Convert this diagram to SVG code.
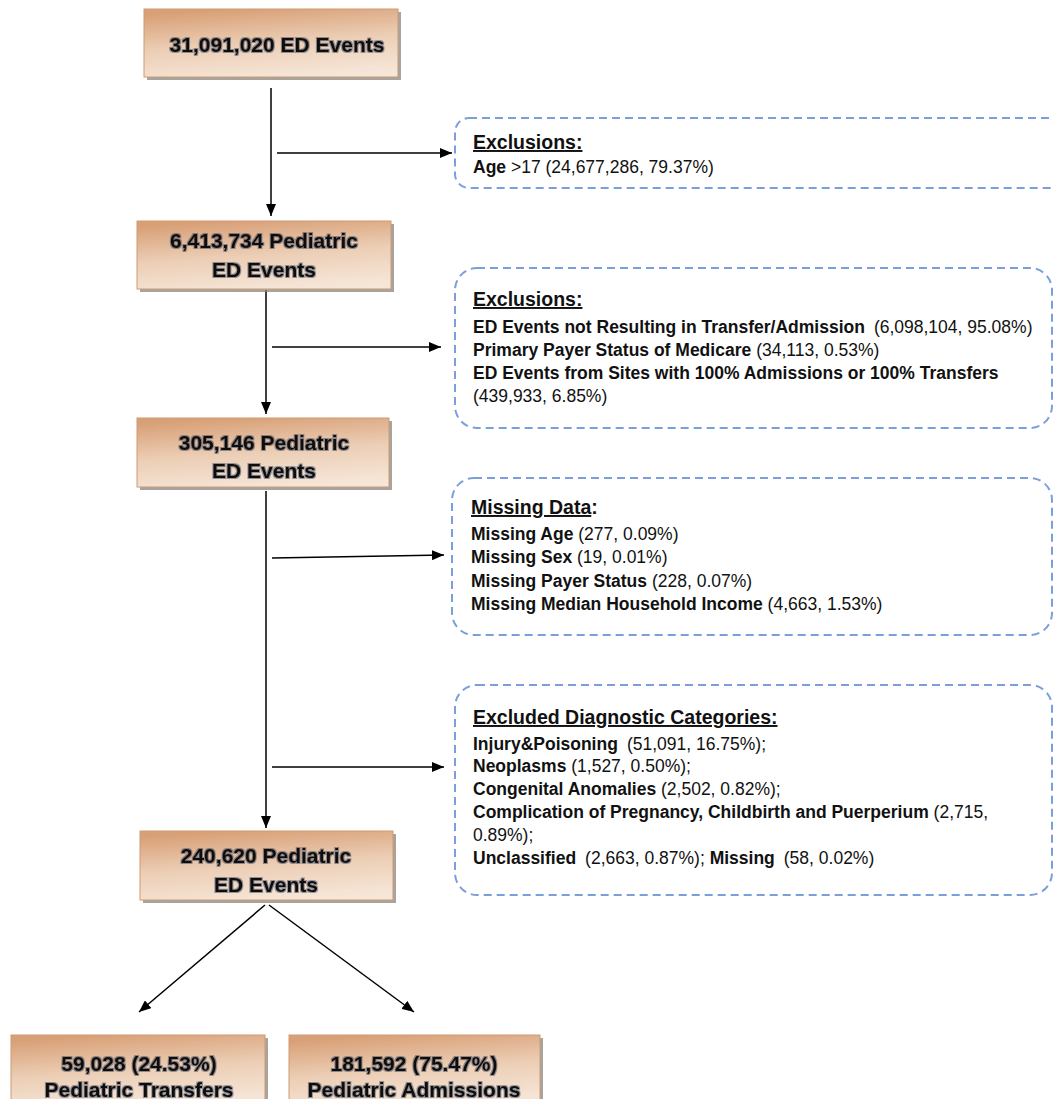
<svg xmlns="http://www.w3.org/2000/svg" width="1054" height="1099" viewBox="0 0 1054 1099">
<style>
.node{fill:url(#ng);stroke:#cf9a70;stroke-width:1}
.shadow{fill:#8a8580;opacity:0.75}
.nt{font-family:"Liberation Sans",Arial,sans-serif;font-weight:bold;font-size:21px;fill:#111;text-anchor:middle}
.dash{fill:none;stroke:#7b9fda;stroke-width:2;stroke-dasharray:8 5}
.st{font-family:"Liberation Sans",Arial,sans-serif;font-size:17.5px;fill:#111}
.sh{font-family:"Liberation Sans",Arial,sans-serif;font-size:19.5px;font-weight:bold;fill:#111}
.b{font-weight:bold}
.u{text-decoration:underline}
.conn{stroke:#000;stroke-width:1.5;fill:none;marker-end:url(#ah)}
</style>
<defs>
<linearGradient id="ng" x1="0.35" y1="0" x2="0.6" y2="1">
<stop offset="0" stop-color="#d8a077"/>
<stop offset="0.5" stop-color="#ecceb5"/>
<stop offset="1" stop-color="#f6e6d8"/>
</linearGradient>
<filter id="glow" x="-5%" y="-20%" width="110%" height="140%">
<feMorphology in="SourceAlpha" operator="dilate" radius="0.5" result="d"/>
<feGaussianBlur in="d" stdDeviation="0.7" result="b"/>
<feFlood flood-color="#24324f" flood-opacity="0.45"/>
<feComposite in2="b" operator="in" result="g"/>
<feMerge><feMergeNode in="g"/><feMergeNode in="SourceGraphic"/></feMerge>
</filter>
<marker id="ah" viewBox="0 0 12 10" refX="12" refY="5" markerWidth="12" markerHeight="10" markerUnits="userSpaceOnUse" orient="auto">
<path d="M0,0 L12,5 L0,10 z" fill="#000"/>
</marker>
</defs>

<g id="connectors">
<line class="conn" x1="271" y1="88" x2="271" y2="216"/>
<line class="conn" x1="277" y1="153" x2="452" y2="153"/>
<line class="conn" x1="266" y1="290" x2="266" y2="414"/>
<line class="conn" x1="272" y1="347" x2="441" y2="347"/>
<line class="conn" x1="266" y1="491" x2="266" y2="828"/>
<line class="conn" x1="272" y1="558" x2="444" y2="555"/>
<line class="conn" x1="272" y1="767" x2="444" y2="767"/>
<line class="conn" x1="265" y1="905" x2="139" y2="1012"/>
<line class="conn" x1="269" y1="905" x2="414" y2="1012"/>
</g>

<g id="n1">
<rect class="shadow" x="147" y="12" width="254" height="68"/>
<rect class="node" x="144" y="9" width="254" height="68"/>
<text class="nt" x="277" y="52" filter="url(#glow)">31,091,020 ED Events</text>
</g>

<g id="n2">
<rect class="shadow" x="140" y="224" width="254" height="68"/>
<rect class="node" x="137" y="221" width="254" height="68"/>
<text class="nt" x="264" y="248" filter="url(#glow)">6,413,734 Pediatric</text>
<text class="nt" x="264" y="277" filter="url(#glow)">ED Events</text>
</g>

<g id="n3">
<rect class="shadow" x="140" y="421" width="252" height="69"/>
<rect class="node" x="137" y="418" width="252" height="69"/>
<text class="nt" x="264" y="450" filter="url(#glow)">305,146 Pediatric</text>
<text class="nt" x="264" y="478" filter="url(#glow)">ED Events</text>
</g>

<g id="n4">
<rect class="shadow" x="143" y="834" width="253" height="69"/>
<rect class="node" x="140" y="831" width="253" height="69"/>
<text class="nt" x="266" y="863" filter="url(#glow)">240,620 Pediatric</text>
<text class="nt" x="266" y="892" filter="url(#glow)">ED Events</text>
</g>

<g id="n5">
<rect class="shadow" x="14" y="1038" width="254" height="70"/>
<rect class="node" x="11" y="1035" width="254" height="70"/>
<text class="nt" x="139" y="1071" filter="url(#glow)">59,028 (24.53%)</text>
<text class="nt" x="139" y="1097" filter="url(#glow)">Pediatric Transfers</text>
</g>

<g id="n6">
<rect class="shadow" x="292" y="1038" width="251" height="70"/>
<rect class="node" x="289" y="1035" width="251" height="70"/>
<text class="nt" x="414" y="1071" filter="url(#glow)">181,592 (75.47%)</text>
<text class="nt" x="414" y="1097" filter="url(#glow)">Pediatric Admissions</text>
</g>

<g id="d1">
<rect class="dash" x="455" y="118" width="640" height="70" rx="14"/>
<text class="sh" x="473" y="149"><tspan class="u">Exclusions:</tspan></text>
<text class="st" x="473" y="173"><tspan class="b">Age</tspan> &gt;17 (24,677,286, 79.37%)</text>
</g>

<g id="d2">
<rect class="dash" x="455" y="268" width="597" height="160" rx="22"/>
<text class="sh" x="473" y="306"><tspan class="u">Exclusions:</tspan></text>
<text class="st" x="473" y="333"><tspan class="b">ED Events not Resulting in Transfer/Admission</tspan><tspan dx="9">(6,098,104, 95.08%)</tspan></text>
<text class="st" x="473" y="356"><tspan class="b">Primary Payer Status of Medicare</tspan><tspan dx="5">(34,113, 0.53%)</tspan></text>
<text class="st b" x="473" y="379">ED Events from Sites with 100% Admissions or 100% Transfers</text>
<text class="st" x="473" y="402">(439,933, 6.85%)</text>
</g>

<g id="d3">
<rect class="dash" x="452" y="478" width="600" height="157" rx="22"/>
<text class="sh" x="471" y="514"><tspan class="u">Missing Data</tspan>:</text>
<text class="st" x="471" y="540"><tspan class="b">Missing Age</tspan> (277, 0.09%)</text>
<text class="st" x="471" y="563"><tspan class="b">Missing Sex</tspan> (19, 0.01%)</text>
<text class="st" x="471" y="587"><tspan class="b">Missing Payer Status</tspan> (228, 0.07%)</text>
<text class="st" x="471" y="610"><tspan class="b">Missing Median Household Income</tspan> (4,663, 1.53%)</text>
</g>

<g id="d4">
<rect class="dash" x="455" y="685" width="597" height="210" rx="22"/>
<text class="sh" x="473" y="724"><tspan class="u">Excluded Diagnostic Categories:</tspan></text>
<text class="st" x="473" y="750"><tspan class="b">Injury&amp;Poisoning</tspan><tspan dx="9">(51,091, 16.75%);</tspan></text>
<text class="st" x="473" y="772"><tspan class="b">Neoplasms</tspan> (1,527, 0.50%);</text>
<text class="st" x="473" y="795"><tspan class="b">Congenital Anomalies</tspan> (2,502, 0.82%);</text>
<text class="st" x="473" y="818"><tspan class="b">Complication of Pregnancy, Childbirth and Puerperium</tspan> (2,715,</text>
<text class="st" x="473" y="841">0.89%);</text>
<text class="st" x="473" y="864"><tspan class="b">Unclassified</tspan><tspan dx="9">(2,663, 0.87%);</tspan> <tspan class="b">Missing</tspan><tspan dx="9">(58, 0.02%)</tspan></text>
</g>
</svg>
